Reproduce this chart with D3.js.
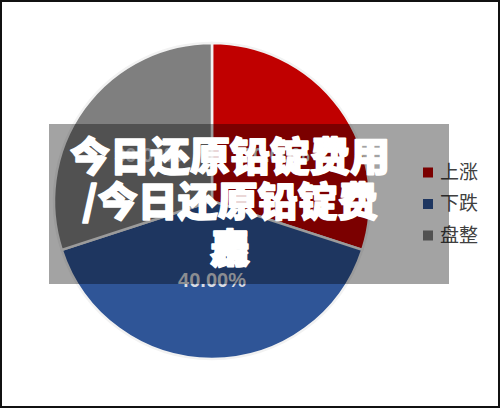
<!DOCTYPE html>
<meta charset="utf-8">
<style>
  body { margin: 0; background: #fff; }
  svg { display: block; }
</style>
<body>
<script src="https://d3js.org/d3.v7.min.js"></script>
<script>

// data
var categories = ["上涨", "下跌", "盘整"];
var values = [30, 40, 30];
var colors = ["#c00000", "#2f5597", "#7f7f7f"];
var titleLines = ["今日还原铅锭费用", "/今日还原铅锭费"];
var titleTail = ["用", "表"];   // last line, glyphs drawn on top of each other

var width = 500, height = 408;
var cx = 212, cy = 201, radius = 158;

var svg = d3.select("body").append("svg")
    .attr("width", width)
    .attr("height", height);

// frame
svg.append("rect")
    .attr("x", 1).attr("y", 1)
    .attr("width", width - 2).attr("height", height - 2)
    .attr("fill", "#fff")
    .attr("stroke", "#111")
    .attr("stroke-width", 2);

var pie = d3.pie().sort(null).value(function(d) { return d; });
var arcs = pie(values);

var arc = d3.arc().innerRadius(0).outerRadius(radius);
var labelArc = d3.arc().innerRadius(radius * 0.5).outerRadius(radius * 0.5);

var g = svg.append("g")
    .attr("transform", "translate(" + cx + "," + cy + ")");

g.selectAll("path.slice")
    .data(arcs)
  .enter().append("path")
    .attr("class", "slice")
    .attr("d", arc)
    .attr("fill", function(d, i) { return colors[i]; })
    .attr("stroke", "#f2f2f2")
    .attr("stroke-width", 2.5);

var total = d3.sum(values);
g.selectAll("text.pct")
    .data(arcs)
  .enter().append("text")
    .attr("class", "pct")
    .attr("transform", function(d) { return "translate(" + labelArc.centroid(d) + ")"; })
    .attr("text-anchor", "middle")
    .attr("dy", "0.36em")
    .attr("fill", "#dadde3")
    .style("font-family", "'Liberation Sans', Arial, sans-serif")
    .style("font-weight", "bold")
    .style("font-size", "20px")
    .text(function(d) { return (d.value / total * 100).toFixed(2) + "%"; });

// legend
var legend = svg.append("g")
    .attr("transform", "translate(423,172)");

var item = legend.selectAll("g")
    .data(categories)
  .enter().append("g")
    .attr("transform", function(d, i) { return "translate(0," + (i * 31.5) + ")"; });

item.append("rect")
    .attr("x", 0).attr("y", -4.5)
    .attr("width", 10).attr("height", 10)
    .attr("fill", function(d, i) { return colors[i]; });

item.append("text")
    .attr("x", 17)
    .attr("dy", "0.36em")
    .attr("fill", "#404040")
    .style("font-family", "'Noto Sans CJK SC', sans-serif")
    .style("font-size", "19px")
    .text(function(d) { return d; });

// dark translucent banner over the chart
svg.append("rect")
    .attr("x", 49).attr("y", 124)
    .attr("width", 400).attr("height", 160)
    .attr("fill", "#000")
    .attr("fill-opacity", 0.36);

var title = svg.append("g")
    .style("font-family", "'Noto Sans CJK SC', sans-serif")
    .style("font-weight", 900)
    .style("font-size", "40px")
    .attr("fill", "#fff")
    .attr("stroke", "#fff")
    .attr("stroke-width", 1.6)
    .attr("stroke-linejoin", "round")
    .attr("text-anchor", "middle");

title.selectAll("text.line")
    .data(titleLines)
  .enter().append("text")
    .attr("class", "line")
    .attr("x", 230)
    .attr("y", function(d, i) { return 157 + i * 45; })
    .attr("dy", "0.36em")
    .text(function(d) { return d; });

title.selectAll("text.tail")
    .data(titleTail)
  .enter().append("text")
    .attr("class", "tail")
    .attr("x", 230)
    .attr("y", 249)
    .attr("dy", "0.36em")
    .text(function(d) { return d; });

</script>
</body>
